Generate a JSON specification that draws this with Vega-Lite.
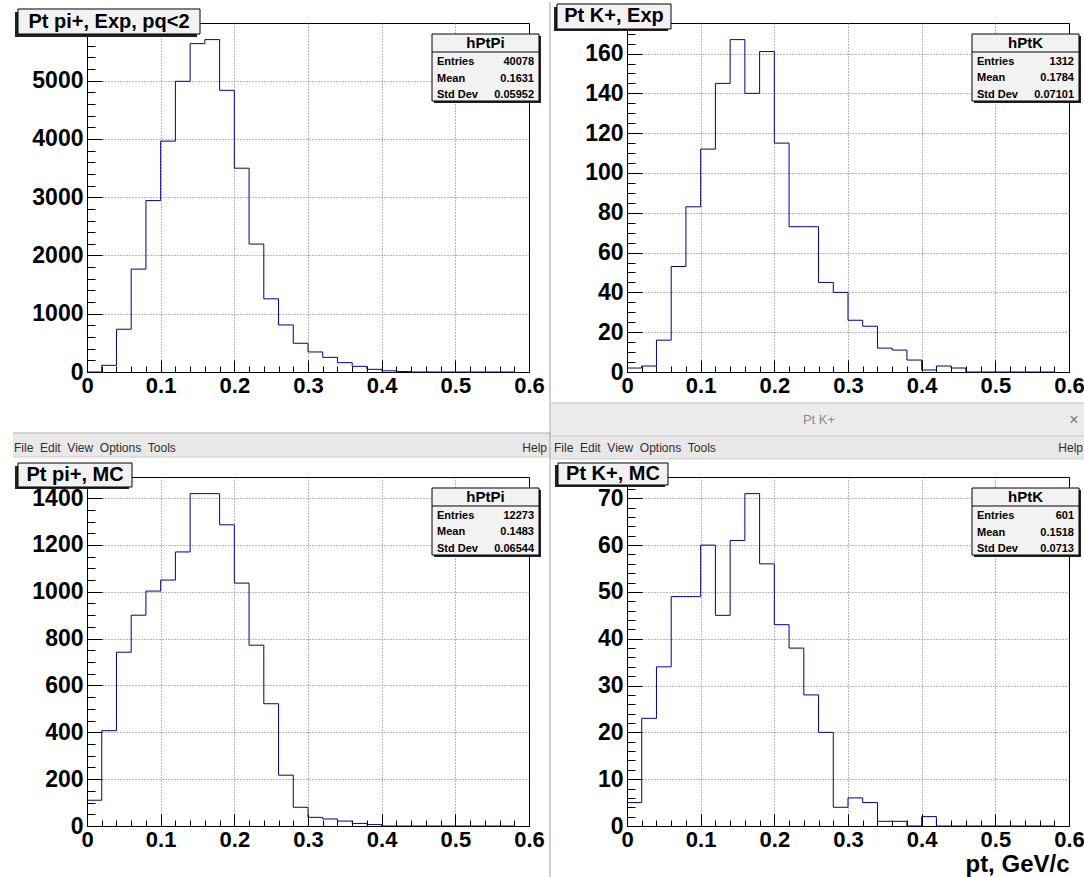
{
  "$schema": "https://vega.github.io/schema/vega-lite/v6.json",
  "padding": 0,
  "background": "white",
  "bounds": "flush",
  "columns": 2,
  "spacing": {"row": 105, "column": 98},
  "datasets": {
    "piExp": [
      {"pt": 0.00, "count": 0}, {"pt": 0.02, "count": 115}, {"pt": 0.04, "count": 734}, {"pt": 0.06, "count": 1766},
      {"pt": 0.08, "count": 2942}, {"pt": 0.10, "count": 3962}, {"pt": 0.12, "count": 4989}, {"pt": 0.14, "count": 5636},
      {"pt": 0.16, "count": 5705}, {"pt": 0.18, "count": 4834}, {"pt": 0.20, "count": 3498}, {"pt": 0.22, "count": 2196},
      {"pt": 0.24, "count": 1256}, {"pt": 0.26, "count": 808}, {"pt": 0.28, "count": 493}, {"pt": 0.30, "count": 344},
      {"pt": 0.32, "count": 252}, {"pt": 0.34, "count": 160}, {"pt": 0.36, "count": 97}, {"pt": 0.38, "count": 46},
      {"pt": 0.40, "count": 20}, {"pt": 0.42, "count": 8}, {"pt": 0.44, "count": 0}, {"pt": 0.46, "count": 0},
      {"pt": 0.48, "count": 0}, {"pt": 0.50, "count": 0}, {"pt": 0.52, "count": 0}, {"pt": 0.54, "count": 0},
      {"pt": 0.56, "count": 0}, {"pt": 0.58, "count": 0}
    ],
    "kExp": [
      {"pt": 0.00, "count": 2}, {"pt": 0.02, "count": 3}, {"pt": 0.04, "count": 16}, {"pt": 0.06, "count": 53},
      {"pt": 0.08, "count": 83}, {"pt": 0.10, "count": 112}, {"pt": 0.12, "count": 145}, {"pt": 0.14, "count": 167},
      {"pt": 0.16, "count": 140}, {"pt": 0.18, "count": 161}, {"pt": 0.20, "count": 115}, {"pt": 0.22, "count": 73},
      {"pt": 0.24, "count": 73}, {"pt": 0.26, "count": 45}, {"pt": 0.28, "count": 40}, {"pt": 0.30, "count": 26},
      {"pt": 0.32, "count": 23}, {"pt": 0.34, "count": 12}, {"pt": 0.36, "count": 11}, {"pt": 0.38, "count": 6},
      {"pt": 0.40, "count": 1}, {"pt": 0.42, "count": 3}, {"pt": 0.44, "count": 2}, {"pt": 0.46, "count": 0},
      {"pt": 0.48, "count": 0}, {"pt": 0.50, "count": 0}, {"pt": 0.52, "count": 0}, {"pt": 0.54, "count": 0},
      {"pt": 0.56, "count": 0}, {"pt": 0.58, "count": 0}
    ],
    "piMC": [
      {"pt": 0.00, "count": 110}, {"pt": 0.02, "count": 407}, {"pt": 0.04, "count": 742}, {"pt": 0.06, "count": 900},
      {"pt": 0.08, "count": 1003}, {"pt": 0.10, "count": 1050}, {"pt": 0.12, "count": 1170}, {"pt": 0.14, "count": 1419},
      {"pt": 0.16, "count": 1419}, {"pt": 0.18, "count": 1286}, {"pt": 0.20, "count": 1037}, {"pt": 0.22, "count": 772},
      {"pt": 0.24, "count": 522}, {"pt": 0.26, "count": 217}, {"pt": 0.28, "count": 80}, {"pt": 0.30, "count": 37},
      {"pt": 0.32, "count": 30}, {"pt": 0.34, "count": 21}, {"pt": 0.36, "count": 11}, {"pt": 0.38, "count": 6},
      {"pt": 0.40, "count": 0}, {"pt": 0.42, "count": 0}, {"pt": 0.44, "count": 0}, {"pt": 0.46, "count": 0},
      {"pt": 0.48, "count": 0}, {"pt": 0.50, "count": 0}, {"pt": 0.52, "count": 0}, {"pt": 0.54, "count": 0},
      {"pt": 0.56, "count": 0}, {"pt": 0.58, "count": 0}
    ],
    "kMC": [
      {"pt": 0.00, "count": 5}, {"pt": 0.02, "count": 23}, {"pt": 0.04, "count": 34}, {"pt": 0.06, "count": 49},
      {"pt": 0.08, "count": 49}, {"pt": 0.10, "count": 60}, {"pt": 0.12, "count": 45}, {"pt": 0.14, "count": 61},
      {"pt": 0.16, "count": 71}, {"pt": 0.18, "count": 56}, {"pt": 0.20, "count": 43}, {"pt": 0.22, "count": 38},
      {"pt": 0.24, "count": 28}, {"pt": 0.26, "count": 20}, {"pt": 0.28, "count": 4}, {"pt": 0.30, "count": 6},
      {"pt": 0.32, "count": 5}, {"pt": 0.34, "count": 1}, {"pt": 0.36, "count": 1}, {"pt": 0.38, "count": 0},
      {"pt": 0.40, "count": 2}, {"pt": 0.42, "count": 0}, {"pt": 0.44, "count": 0}, {"pt": 0.46, "count": 0},
      {"pt": 0.48, "count": 0}, {"pt": 0.50, "count": 0}, {"pt": 0.52, "count": 0}, {"pt": 0.54, "count": 0},
      {"pt": 0.56, "count": 0}, {"pt": 0.58, "count": 0}
    ],
    "statsPiExp": [{"name": "hPtPi", "labels": ["Entries", "Mean", "Std Dev"], "values": ["40078", "0.1631", "0.05952"]}],
    "statsKExp": [{"name": "hPtK", "labels": ["Entries", "Mean", "Std Dev"], "values": ["1312", "0.1784", "0.07101"]}],
    "statsPiMC": [{"name": "hPtPi", "labels": ["Entries", "Mean", "Std Dev"], "values": ["12273", "0.1483", "0.06544"]}],
    "statsKMC": [{"name": "hPtK", "labels": ["Entries", "Mean", "Std Dev"], "values": ["601", "0.1518", "0.0713"]}]
  },
  "config": {
    "view": {"stroke": "black", "strokeWidth": 1},
    "font": "Liberation Sans",
    "axis": {
      "labelFont": "Liberation Sans",
      "labelFontWeight": "bold",
      "labelColor": "black",
      "domainColor": "black",
      "domainWidth": 1,
      "tickColor": "black",
      "tickWidth": 1,
      "tickCount": 100,
      "gridColor": "#707070",
      "gridDash": [1, 2],
      "gridWidth": 1,
      "labelOverlap": false,
      "labelFlush": false,
      "labelBound": false,
      "titleFont": "Liberation Sans"
    }
  },
  "concat": [
    {
      "width": 442, "height": 349,
      "data": {"name": "statsPiExp"},
      "layer": [
        {"mark": {"type": "rect", "color": "white", "clip": false},
         "encoding": {"x": {"datum": -0.116742}, "x2": {"datum": -0.108597}, "y": {"datum": 6367.59}, "y2": {"datum": 6264.6}}},
        {"data": {"name": "piExp"},
         "mark": {"type": "line", "interpolate": "step-after", "color": "#000099", "strokeWidth": 1},
         "encoding": {
           "x": {"field": "pt", "type": "quantitative", "scale": {"domain": [0, 0.6], "nice": false, "zero": false},
             "axis": {"title": null, "tickCount": 100, "values": [0,0.02,0.04,0.06,0.08,0.1,0.12,0.14,0.16,0.18,0.2,0.22,0.24,0.26,0.28,0.3,0.32,0.34,0.36,0.38,0.4,0.42,0.44,0.46,0.48,0.5,0.52,0.54,0.56,0.58,0.6],
               "labelExpr": "abs(datum.value*10-round(datum.value*10))<0.0001 ? (datum.value<0.0001 ? '0' : format(datum.value,'.1f')) : ''",
               "tickSize": {"condition": {"test": "abs(datum.value*10-round(datum.value*10))<0.0001", "value": -12}, "value": -6},
               "grid": true,
               "gridOpacity": {"condition": {"test": "abs(datum.value*10-round(datum.value*10))<0.0001 && datum.value>0.05 && datum.value<0.55", "value": 1}, "value": 0},
               "labelFontSize": 22, "labelPadding": 15}},
           "y": {"field": "count", "type": "quantitative", "scale": {"domain": [0, 5990], "nice": false, "zero": false},
             "axis": {"title": null, "tickCount": 100, "values": [0,200,400,600,800,1000,1200,1400,1600,1800,2000,2200,2400,2600,2800,3000,3200,3400,3600,3800,4000,4200,4400,4600,4800,5000,5200,5400,5600,5800],
               "labelExpr": "datum.value % 1000 == 0 ? format(datum.value,'d') : ''",
               "tickSize": {"condition": {"test": "datum.value % 1000 == 0", "value": -15}, "value": -8},
               "grid": true,
               "gridOpacity": {"condition": {"test": "datum.value % 1000 == 0 && datum.value > 0", "value": 1}, "value": 0},
               "labelFontSize": 23, "labelPadding": 19}}
         }},
        {"mark": {"type": "rect", "color": "#222222", "clip": false},
         "encoding": {"x": {"datum": -0.097738}, "x2": {"datum": 0.149321}, "y": {"datum": 6178.80}, "y2": {"datum": 5749.71}}},
        {"mark": {"type": "rect", "fill": "#f2f2f2", "stroke": "black", "strokeWidth": 1, "clip": false},
         "encoding": {"x": {"datum": -0.093665}, "x2": {"datum": 0.153394}, "y": {"datum": 6230.29}, "y2": {"datum": 5801.20}}},
        {"mark": {"type": "text", "font": "Liberation Sans", "fontWeight": "bold", "fontSize": 20, "align": "center", "baseline": "middle", "color": "black", "clip": false},
         "encoding": {"x": {"datum": 0.029864}, "y": {"datum": 6015.74}, "text": {"value": "Pt pi+, Exp, pq<2"}}},
        {"mark": {"type": "rect", "color": "#222222", "clip": false},
         "encoding": {"x": {"datum": 0.471041}, "x2": {"datum": 0.616290}, "y": {"datum": 5766.88}, "y2": {"datum": 4616.94}}},
        {"mark": {"type": "rect", "fill": "#f2f2f2", "stroke": "black", "strokeWidth": 1, "clip": false},
         "encoding": {"x": {"datum": 0.468326}, "x2": {"datum": 0.613575}, "y": {"datum": 5801.20}, "y2": {"datum": 4651.26}}},
        {"mark": {"type": "rule", "color": "black", "strokeWidth": 1, "clip": false},
         "encoding": {"x": {"datum": 0.468326}, "x2": {"datum": 0.613575}, "y": {"datum": 5492.26}}},
        {"mark": {"type": "text", "font": "Liberation Sans", "fontWeight": "bold", "fontSize": 15, "align": "center", "baseline": "middle", "color": "black", "clip": false},
         "encoding": {"x": {"datum": 0.540950}, "y": {"datum": 5646.73}, "text": {"field": "name", "type": "nominal"}}},
        {"mark": {"type": "text", "font": "Liberation Sans", "fontWeight": "bold", "fontSize": 11, "align": "left", "baseline": "alphabetic", "lineHeight": 16.5, "color": "black", "clip": false},
         "encoding": {"x": {"datum": 0.475113}, "y": {"datum": 5269.14}, "text": {"field": "labels", "type": "nominal"}}},
        {"mark": {"type": "text", "font": "Liberation Sans", "fontWeight": "bold", "fontSize": 11, "align": "right", "baseline": "alphabetic", "lineHeight": 16.5, "color": "black", "clip": false},
         "encoding": {"x": {"datum": 0.606787}, "y": {"datum": 5269.14}, "text": {"field": "values", "type": "nominal"}}}
      ]
    },
    {
      "width": 442, "height": 349,
      "data": {"name": "statsKExp"},
      "layer": [
        {"mark": {"type": "rule", "color": "#a0a0a0", "strokeWidth": 1, "clip": false},
         "encoding": {"x": {"datum": -0.104525}, "y": {"datum": 185.9}, "y2": {"datum": -15.576}}},
        {"data": {"name": "kExp"},
         "mark": {"type": "line", "interpolate": "step-after", "color": "#000099", "strokeWidth": 1},
         "encoding": {
           "x": {"field": "pt", "type": "quantitative", "scale": {"domain": [0, 0.6], "nice": false, "zero": false},
             "axis": {"title": null, "tickCount": 100, "values": [0,0.02,0.04,0.06,0.08,0.1,0.12,0.14,0.16,0.18,0.2,0.22,0.24,0.26,0.28,0.3,0.32,0.34,0.36,0.38,0.4,0.42,0.44,0.46,0.48,0.5,0.52,0.54,0.56,0.58,0.6],
               "labelExpr": "abs(datum.value*10-round(datum.value*10))<0.0001 ? (datum.value<0.0001 ? '0' : format(datum.value,'.1f')) : ''",
               "tickSize": {"condition": {"test": "abs(datum.value*10-round(datum.value*10))<0.0001", "value": -12}, "value": -6},
               "grid": true,
               "gridOpacity": {"condition": {"test": "abs(datum.value*10-round(datum.value*10))<0.0001 && datum.value>0.05 && datum.value<0.55", "value": 1}, "value": 0},
               "labelFontSize": 22, "labelPadding": 15}},
           "y": {"field": "count", "type": "quantitative", "scale": {"domain": [0, 175.35], "nice": false, "zero": false},
             "axis": {"title": null, "tickCount": 100, "values": [0,5,10,15,20,25,30,35,40,45,50,55,60,65,70,75,80,85,90,95,100,105,110,115,120,125,130,135,140,145,150,155,160,165,170,175],
               "labelExpr": "datum.value % 20 == 0 ? format(datum.value,'d') : ''",
               "tickSize": {"condition": {"test": "datum.value % 20 == 0", "value": -15}, "value": -8},
               "grid": true,
               "gridOpacity": {"condition": {"test": "datum.value % 20 == 0 && datum.value > 0", "value": 1}, "value": 0},
               "labelFontSize": 23, "labelPadding": 19}}
         }},
        {"mark": {"type": "rect", "color": "#222222", "clip": false},
         "encoding": {"x": {"datum": -0.099095}, "x2": {"datum": 0.055656}, "y": {"datum": 183.389}, "y2": {"datum": 171.331}}},
        {"mark": {"type": "rect", "fill": "#f2f2f2", "stroke": "black", "strokeWidth": 1, "clip": false},
         "encoding": {"x": {"datum": -0.095023}, "x2": {"datum": 0.059729}, "y": {"datum": 184.896}, "y2": {"datum": 172.335}}},
        {"mark": {"type": "text", "font": "Liberation Sans", "fontWeight": "bold", "fontSize": 20, "align": "center", "baseline": "middle", "color": "black", "clip": false},
         "encoding": {"x": {"datum": -0.017647}, "y": {"datum": 178.616}, "text": {"value": "Pt K+, Exp"}}},
        {"mark": {"type": "rect", "color": "#222222", "clip": false},
         "encoding": {"x": {"datum": 0.471041}, "x2": {"datum": 0.616290}, "y": {"datum": 168.818}, "y2": {"datum": 135.155}}},
        {"mark": {"type": "rect", "fill": "#f2f2f2", "stroke": "black", "strokeWidth": 1, "clip": false},
         "encoding": {"x": {"datum": 0.468326}, "x2": {"datum": 0.613575}, "y": {"datum": 169.823}, "y2": {"datum": 136.160}}},
        {"mark": {"type": "rule", "color": "black", "strokeWidth": 1, "clip": false},
         "encoding": {"x": {"datum": 0.468326}, "x2": {"datum": 0.613575}, "y": {"datum": 160.779}}},
        {"mark": {"type": "text", "font": "Liberation Sans", "fontWeight": "bold", "fontSize": 15, "align": "center", "baseline": "middle", "color": "black", "clip": false},
         "encoding": {"x": {"datum": 0.540950}, "y": {"datum": 165.301}, "text": {"field": "name", "type": "nominal"}}},
        {"mark": {"type": "text", "font": "Liberation Sans", "fontWeight": "bold", "fontSize": 11, "align": "left", "baseline": "alphabetic", "lineHeight": 16.5, "color": "black", "clip": false},
         "encoding": {"x": {"datum": 0.475113}, "y": {"datum": 154.248}, "text": {"field": "labels", "type": "nominal"}}},
        {"mark": {"type": "text", "font": "Liberation Sans", "fontWeight": "bold", "fontSize": 11, "align": "right", "baseline": "alphabetic", "lineHeight": 16.5, "color": "black", "clip": false},
         "encoding": {"x": {"datum": 0.606787}, "y": {"datum": 154.248}, "text": {"field": "values", "type": "nominal"}}}
      ]
    },
    {
      "width": 442, "height": 349,
      "data": {"name": "statsPiMC"},
      "layer": [
        {"mark": {"type": "rect", "color": "#e8e8e8", "clip": false},
         "encoding": {"x": {"datum": -0.100452}, "x2": {"datum": 0.629864}, "y": {"datum": 1677.85}, "y2": {"datum": 1575.39}}},
        {"mark": {"type": "rule", "color": "#b0b0b0", "strokeWidth": 1, "clip": false},
         "encoding": {"x": {"datum": -0.100452}, "x2": {"datum": 0.629864}, "y": {"datum": 1677.85}}},
        {"mark": {"type": "rule", "color": "#cccccc", "strokeWidth": 1, "clip": false},
         "encoding": {"x": {"datum": -0.100452}, "x2": {"datum": 0.629864}, "y": {"datum": 1575.39}}},
        {"mark": {"type": "text", "font": "Liberation Sans", "fontSize": 12, "align": "left", "baseline": "middle", "color": "#2e2e2e", "clip": false},
         "encoding": {"x": {"datum": -0.099095}, "y": {"datum": 1611.68}, "text": {"value": "File\u00a0\u00a0Edit\u00a0\u00a0View\u00a0\u00a0Options\u00a0\u00a0Tools"}}},
        {"mark": {"type": "text", "font": "Liberation Sans", "fontSize": 12, "align": "right", "baseline": "middle", "color": "#2e2e2e", "clip": false},
         "encoding": {"x": {"datum": 0.624434}, "y": {"datum": 1611.68}, "text": {"value": "Help"}}},
        {"data": {"name": "piMC"},
         "mark": {"type": "line", "interpolate": "step-after", "color": "#000099", "strokeWidth": 1},
         "encoding": {
           "x": {"field": "pt", "type": "quantitative", "scale": {"domain": [0, 0.6], "nice": false, "zero": false},
             "axis": {"title": null, "tickCount": 100, "values": [0,0.02,0.04,0.06,0.08,0.1,0.12,0.14,0.16,0.18,0.2,0.22,0.24,0.26,0.28,0.3,0.32,0.34,0.36,0.38,0.4,0.42,0.44,0.46,0.48,0.5,0.52,0.54,0.56,0.58,0.6],
               "labelExpr": "abs(datum.value*10-round(datum.value*10))<0.0001 ? (datum.value<0.0001 ? '0' : format(datum.value,'.1f')) : ''",
               "tickSize": {"condition": {"test": "abs(datum.value*10-round(datum.value*10))<0.0001", "value": -12}, "value": -6},
               "grid": true,
               "gridOpacity": {"condition": {"test": "abs(datum.value*10-round(datum.value*10))<0.0001 && datum.value>0.05 && datum.value<0.55", "value": 1}, "value": 0},
               "labelFontSize": 22, "labelPadding": 15}},
           "y": {"field": "count", "type": "quantitative", "scale": {"domain": [0, 1490], "nice": false, "zero": false},
             "axis": {"title": null, "tickCount": 100, "values": [0,50,100,150,200,250,300,350,400,450,500,550,600,650,700,750,800,850,900,950,1000,1050,1100,1150,1200,1250,1300,1350,1400,1450],
               "labelExpr": "datum.value % 200 == 0 ? format(datum.value,'d') : ''",
               "tickSize": {"condition": {"test": "datum.value % 200 == 0", "value": -15}, "value": -8},
               "grid": true,
               "gridOpacity": {"condition": {"test": "datum.value % 200 == 0 && datum.value > 0", "value": 1}, "value": 0},
               "labelFontSize": 23, "labelPadding": 19}}
         }},
        {"mark": {"type": "rect", "color": "#222222", "clip": false},
         "encoding": {"x": {"datum": -0.097738}, "x2": {"datum": 0.057014}, "y": {"datum": 1536.96}, "y2": {"datum": 1438.77}}},
        {"mark": {"type": "rect", "fill": "#f2f2f2", "stroke": "black", "strokeWidth": 1, "clip": false},
         "encoding": {"x": {"datum": -0.093665}, "x2": {"datum": 0.061086}, "y": {"datum": 1549.77}, "y2": {"datum": 1447.31}}},
        {"mark": {"type": "text", "font": "Liberation Sans", "fontWeight": "bold", "fontSize": 20, "align": "center", "baseline": "middle", "color": "black", "clip": false},
         "encoding": {"x": {"datum": -0.016290}, "y": {"datum": 1498.54}, "text": {"value": "Pt pi+, MC"}}},
        {"mark": {"type": "rect", "color": "#222222", "clip": false},
         "encoding": {"x": {"datum": 0.471041}, "x2": {"datum": 0.616290}, "y": {"datum": 1434.50}, "y2": {"datum": 1148.45}}},
        {"mark": {"type": "rect", "fill": "#f2f2f2", "stroke": "black", "strokeWidth": 1, "clip": false},
         "encoding": {"x": {"datum": 0.468326}, "x2": {"datum": 0.613575}, "y": {"datum": 1443.04}, "y2": {"datum": 1156.99}}},
        {"mark": {"type": "rule", "color": "black", "strokeWidth": 1, "clip": false},
         "encoding": {"x": {"datum": 0.468326}, "x2": {"datum": 0.613575}, "y": {"datum": 1366.19}}},
        {"mark": {"type": "text", "font": "Liberation Sans", "fontWeight": "bold", "fontSize": 15, "align": "center", "baseline": "middle", "color": "black", "clip": false},
         "encoding": {"x": {"datum": 0.540950}, "y": {"datum": 1404.61}, "text": {"field": "name", "type": "nominal"}}},
        {"mark": {"type": "text", "font": "Liberation Sans", "fontWeight": "bold", "fontSize": 11, "align": "left", "baseline": "alphabetic", "lineHeight": 16.5, "color": "black", "clip": false},
         "encoding": {"x": {"datum": 0.475113}, "y": {"datum": 1310.69}, "text": {"field": "labels", "type": "nominal"}}},
        {"mark": {"type": "text", "font": "Liberation Sans", "fontWeight": "bold", "fontSize": 11, "align": "right", "baseline": "alphabetic", "lineHeight": 16.5, "color": "black", "clip": false},
         "encoding": {"x": {"datum": 0.606787}, "y": {"datum": 1310.69}, "text": {"field": "values", "type": "nominal"}}}
      ]
    },
    {
      "width": 442, "height": 349,
      "data": {"name": "statsKMC"},
      "layer": [
        {"mark": {"type": "rect", "color": "#ececec", "clip": false},
         "encoding": {"x": {"datum": -0.103167}, "x2": {"datum": 0.621719}, "y": {"datum": 90.357}, "y2": {"datum": 83.308}}},
        {"mark": {"type": "rect", "color": "#e8e8e8", "clip": false},
         "encoding": {"x": {"datum": -0.103167}, "x2": {"datum": 0.621719}, "y": {"datum": 83.308}, "y2": {"datum": 78.395}}},
        {"mark": {"type": "rule", "color": "#c0c0c0", "strokeWidth": 1, "clip": false},
         "encoding": {"x": {"datum": -0.103167}, "x2": {"datum": 0.620362}, "y": {"datum": 90.357}}},
        {"mark": {"type": "rule", "color": "#c8c8c8", "strokeWidth": 1, "clip": false},
         "encoding": {"x": {"datum": -0.103167}, "x2": {"datum": 0.620362}, "y": {"datum": 83.308}}},
        {"mark": {"type": "rule", "color": "#cccccc", "strokeWidth": 1, "clip": false},
         "encoding": {"x": {"datum": -0.103167}, "x2": {"datum": 0.620362}, "y": {"datum": 78.395}}},
        {"mark": {"type": "rule", "color": "#a0a0a0", "strokeWidth": 1, "clip": false},
         "encoding": {"x": {"datum": -0.104525}, "y": {"datum": 90.357}, "y2": {"datum": -10.894}}},
        {"mark": {"type": "text", "font": "Liberation Sans", "fontSize": 13, "align": "center", "baseline": "middle", "color": "#8a8a8a", "clip": false},
         "encoding": {"x": {"datum": 0.260633}, "y": {"datum": 86.726}, "text": {"value": "Pt K+"}}},
        {"mark": {"type": "text", "font": "Liberation Sans", "fontSize": 16, "align": "center", "baseline": "middle", "color": "#777777", "clip": false},
         "encoding": {"x": {"datum": 0.606787}, "y": {"datum": 86.726}, "text": {"value": "×"}}},
        {"mark": {"type": "text", "font": "Liberation Sans", "fontSize": 12, "align": "left", "baseline": "middle", "color": "#2e2e2e", "clip": false},
         "encoding": {"x": {"datum": -0.099095}, "y": {"datum": 80.638}, "text": {"value": "File\u00a0\u00a0Edit\u00a0\u00a0View\u00a0\u00a0Options\u00a0\u00a0Tools"}}},
        {"mark": {"type": "text", "font": "Liberation Sans", "fontSize": 12, "align": "right", "baseline": "middle", "color": "#2e2e2e", "clip": false},
         "encoding": {"x": {"datum": 0.619005}, "y": {"datum": 80.638}, "text": {"value": "Help"}}},
        {"data": {"name": "kMC"},
         "mark": {"type": "line", "interpolate": "step-after", "color": "#000099", "strokeWidth": 1},
         "encoding": {
           "x": {"field": "pt", "type": "quantitative", "scale": {"domain": [0, 0.6], "nice": false, "zero": false},
             "axis": {"title": "pt, GeV/c", "titleAnchor": "end", "titleFontSize": 24, "titleFontWeight": "bold", "titleColor": "black", "titleBaseline": "alphabetic", "titlePadding": 15, "tickCount": 100,
               "values": [0,0.02,0.04,0.06,0.08,0.1,0.12,0.14,0.16,0.18,0.2,0.22,0.24,0.26,0.28,0.3,0.32,0.34,0.36,0.38,0.4,0.42,0.44,0.46,0.48,0.5,0.52,0.54,0.56,0.58,0.6],
               "labelExpr": "abs(datum.value*10-round(datum.value*10))<0.0001 ? (datum.value<0.0001 ? '0' : format(datum.value,'.1f')) : ''",
               "tickSize": {"condition": {"test": "abs(datum.value*10-round(datum.value*10))<0.0001", "value": -12}, "value": -6},
               "grid": true,
               "gridOpacity": {"condition": {"test": "abs(datum.value*10-round(datum.value*10))<0.0001 && datum.value>0.05 && datum.value<0.55", "value": 1}, "value": 0},
               "labelFontSize": 22, "labelPadding": 15}},
           "y": {"field": "count", "type": "quantitative", "scale": {"domain": [0, 74.55], "nice": false, "zero": false},
             "axis": {"title": null, "tickCount": 100, "values": [0,2,4,6,8,10,12,14,16,18,20,22,24,26,28,30,32,34,36,38,40,42,44,46,48,50,52,54,56,58,60,62,64,66,68,70,72,74],
               "labelExpr": "datum.value % 10 == 0 ? format(datum.value,'d') : ''",
               "tickSize": {"condition": {"test": "datum.value % 10 == 0", "value": -15}, "value": -8},
               "grid": true,
               "gridOpacity": {"condition": {"test": "datum.value % 10 == 0 && datum.value > 0", "value": 1}, "value": 0},
               "labelFontSize": 23, "labelPadding": 19}}
         }},
        {"mark": {"type": "rect", "color": "#222222", "clip": false},
         "encoding": {"x": {"datum": -0.097738}, "x2": {"datum": 0.051584}, "y": {"datum": 77.113}, "y2": {"datum": 72.414}}},
        {"mark": {"type": "rect", "fill": "#f2f2f2", "stroke": "black", "strokeWidth": 1, "clip": false},
         "encoding": {"x": {"datum": -0.093665}, "x2": {"datum": 0.055656}, "y": {"datum": 77.541}, "y2": {"datum": 72.841}}},
        {"mark": {"type": "text", "font": "Liberation Sans", "fontWeight": "bold", "fontSize": 20, "align": "center", "baseline": "middle", "color": "black", "clip": false},
         "encoding": {"x": {"datum": -0.019005}, "y": {"datum": 75.191}, "text": {"value": "Pt K+, MC"}}},
        {"mark": {"type": "rect", "color": "#222222", "clip": false},
         "encoding": {"x": {"datum": 0.471041}, "x2": {"datum": 0.616290}, "y": {"datum": 71.773}, "y2": {"datum": 57.461}}},
        {"mark": {"type": "rect", "fill": "#f2f2f2", "stroke": "black", "strokeWidth": 1, "clip": false},
         "encoding": {"x": {"datum": 0.468326}, "x2": {"datum": 0.613575}, "y": {"datum": 72.200}, "y2": {"datum": 57.888}}},
        {"mark": {"type": "rule", "color": "black", "strokeWidth": 1, "clip": false},
         "encoding": {"x": {"datum": 0.468326}, "x2": {"datum": 0.613575}, "y": {"datum": 68.355}}},
        {"mark": {"type": "text", "font": "Liberation Sans", "fontWeight": "bold", "fontSize": 15, "align": "center", "baseline": "middle", "color": "black", "clip": false},
         "encoding": {"x": {"datum": 0.540950}, "y": {"datum": 70.278}, "text": {"field": "name", "type": "nominal"}}},
        {"mark": {"type": "text", "font": "Liberation Sans", "fontWeight": "bold", "fontSize": 11, "align": "left", "baseline": "alphabetic", "lineHeight": 16.5, "color": "black", "clip": false},
         "encoding": {"x": {"datum": 0.475113}, "y": {"datum": 65.578}, "text": {"field": "labels", "type": "nominal"}}},
        {"mark": {"type": "text", "font": "Liberation Sans", "fontWeight": "bold", "fontSize": 11, "align": "right", "baseline": "alphabetic", "lineHeight": 16.5, "color": "black", "clip": false},
         "encoding": {"x": {"datum": 0.606787}, "y": {"datum": 65.578}, "text": {"field": "values", "type": "nominal"}}}
      ]
    }
  ]
}
